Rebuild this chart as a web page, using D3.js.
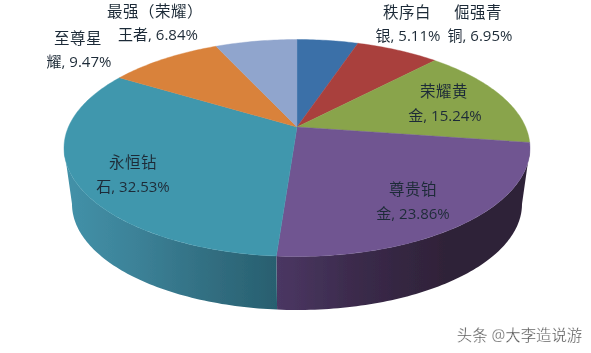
<!DOCTYPE html>
<html><head><meta charset="utf-8">
<script src="https://cdn.jsdelivr.net/npm/d3@7"></script>
<style>html,body{margin:0;padding:0;background:#fff}svg{display:block}
text{font-family:"Open Sans","Noto Sans CJK SC",sans-serif;font-size:15px;text-anchor:middle;dominant-baseline:central}</style>
</head><body><svg id="c" width="591" height="353"></svg>
<script>
const nameLine1 = ["秩序白","倔强青","荣耀黄","尊贵铂","永恒钻","至尊星","最强（荣耀）"];
const nameLine2 = ["银","铜","金","金","石","耀","王者"];
const values = [5.11,6.95,15.24,23.86,32.53,9.47,6.84];
const topColors = ["#3b70a8","#a93f3d","#89a44c","#6f5591","#3f97ad","#d9823b","#90a5cd"];
const wallStops = [null,null,null,["#4b3763","#3a2a4a","#2f2238","#2f2238"],["#4392a9","#3c8298","#326f82","#285f6f"],null,null];
const watermark = "头条 @大李造说游";

const svg=d3.select("#c");
const defs=svg.append("defs");
defs.append("filter").attr("id","soft").append("feGaussianBlur").attr("stdDeviation",0.45);
defs.append("filter").attr("id","softer").append("feGaussianBlur").attr("stdDeviation",0.35);
const g=svg.append("g").attr("filter","url(#soft)");

const topE={cx:297,cy:148,rx:233,ry:108.5};
const botE={cx:297,cy:204,rx:225,ry:106};
const apexY=127;
const k=(apexY-topE.cy)/topE.ry;
const s=Math.sqrt(1-k*k);
function proj(a,e){
  const u=Math.sin(a),v=-Math.cos(a),d=1+k*v;
  return [e.cx+e.rx*u*s/d, e.cy+e.ry*(v+k)/d];
}
const arcs=d3.pie().sort(null).value(d=>d)(values);
const line=d3.line();
const step=Math.PI/180;
function samples(a0,a1,st){
  const n=Math.max(1,Math.ceil((a1-a0)/st));
  return d3.range(n+1).map(i=>a0+(a1-a0)*i/n);
}
// the rim is visible between the two widest points of the projected ellipse
const frontA=Math.acos(k), frontB=2*Math.PI-frontA;
arcs.forEach((d,i)=>{
  const a0=Math.max(d.startAngle,frontA),a1=Math.min(d.endAngle,frontB);
  if(a1<=a0||!wallStops[i])return;
  const ts=samples(a0,a1,step);
  const pts=ts.map(t=>proj(t,topE)).concat(ts.slice().reverse().map(t=>proj(t,botE)));
  const ex=d3.extent(pts,p=>p[0]);
  const id="wall"+i;
  const grad=defs.append("linearGradient").attr("id",id).attr("gradientUnits","userSpaceOnUse")
    .attr("x1",ex[0]).attr("x2",ex[1]).attr("y1",0).attr("y2",0);
  wallStops[i].forEach((c,j,a)=>grad.append("stop").attr("offset",j/(a.length-1)).attr("stop-color",c));
  g.append("path").attr("d",line(pts)+"Z").attr("fill",`url(#${id})`);
});
arcs.forEach((d,i)=>{
  const pts=[[topE.cx,apexY]].concat(samples(d.startAngle,d.endAngle,step).map(t=>proj(t,topE)));
  g.append("path").attr("d",line(pts)+"Z").attr("fill",topColors[i]).attr("stroke",topColors[i]).attr("stroke-width",0.4);
});
const labelAt=[[407,12,408,35],[478,12,480,35],[444,91,445,115],[413,189,413,213],[133,162,133,186],[78,38,79,61],[155,11,158,34]];
const pct=d3.format(".2f");
const tg=svg.append("g").attr("filter","url(#softer)").attr("fill","#1f2c38");
values.forEach((v,i)=>{
  const p=labelAt[i];
  tg.append("text").attr("x",p[0]).attr("y",p[1]).style("font-size","15.5px").style("letter-spacing","0.5px").text(nameLine1[i]);
  tg.append("text").attr("x",p[2]).attr("y",p[3]).text(nameLine2[i]+", "+pct(v)+"%");
});
svg.append("text").attr("x",519.5).attr("y",335).attr("filter","url(#softer)")
  .style("font-size","15.4px").attr("fill","#555").attr("stroke","#fff").attr("stroke-width",0.3).text(watermark);
</script></body></html>
